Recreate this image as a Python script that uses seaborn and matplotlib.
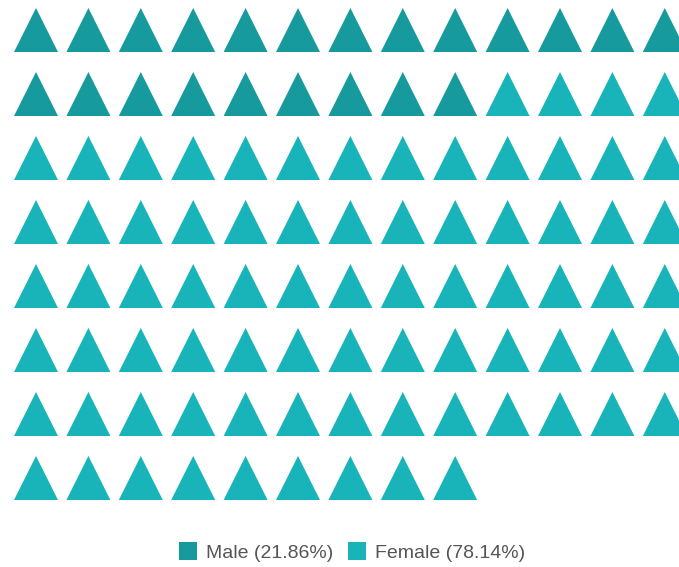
import numpy as np
import pandas as pd
import matplotlib
matplotlib.use("Agg")
import matplotlib.pyplot as plt
from matplotlib.lines import Line2D
import seaborn as sns

labels = ["Male", "Female"]
percentages = [21.86, 78.14]
colors = ["#179a9d", "#18b4b9"]
n_cols = 13

counts = [int(round(p)) for p in percentages]
cats = np.repeat(labels, counts)
idx = np.arange(len(cats))
df = pd.DataFrame({"cat": cats, "col": idx % n_cols, "row": idx // n_cols})

sns.set_style("white")
plt.rcParams["font.family"] = ["Liberation Sans", "DejaVu Sans"]

fig = plt.figure(figsize=(6.79, 5.67), dpi=100)
ax = fig.add_axes([0, 0, 1, 1])
pitch_x, pitch_y = 52.4, 64.0
x0, y0 = 36.0, 30.0
ax.set_xlim(-x0 / pitch_x, (679 - x0) / pitch_x)
ax.set_ylim((567 - y0) / pitch_y, -y0 / pitch_y)

size_pt = 44 * 72 / 100
sns.scatterplot(data=df, x="col", y="row", hue="cat", hue_order=labels,
                palette=colors, marker="^", s=size_pt ** 2, linewidth=0,
                legend=False, ax=ax)
ax.axis("off")

handles = [Line2D([0], [0], marker="s", linestyle="none", markersize=13,
                  markerfacecolor=c, markeredgewidth=0) for c in colors]
texts = [f"{l} ({p:.2f}%)" for l, p in zip(labels, percentages)]
fig.legend(handles, texts, loc="center", bbox_to_anchor=(351.5 / 679, 1 - 553 / 567),
           ncol=2, frameon=False, fontsize=14, handletextpad=0.42,
           columnspacing=0.72, handlelength=1.0, labelcolor="#555555")

fig.savefig("out.png", dpi=100)
